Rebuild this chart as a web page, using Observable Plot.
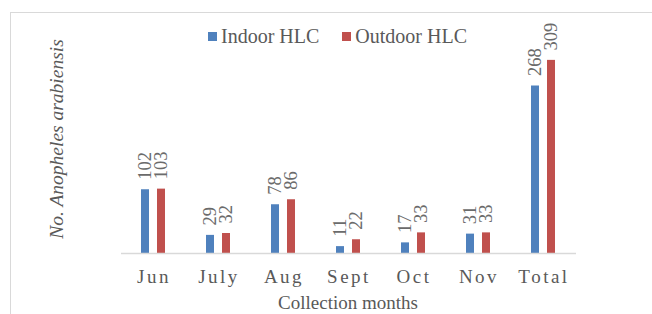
<!DOCTYPE html>
<html>
<head>
<meta charset="utf-8">
<script src="https://cdn.jsdelivr.net/npm/d3@7"></script>
<script src="https://cdn.jsdelivr.net/npm/@observablehq/plot@0.6"></script>
<style>
  html, body { margin: 0; padding: 0; background: #fff; overflow: hidden; }
  #wrap, #wrap * { font-family: "Liberation Serif", "DejaVu Serif", serif; }
  #wrap { position: relative; width: 652px; height: 314px; color: #595959; }
  #frame { position: absolute; left: 10px; top: 12px; width: 700px; height: 400px; border: 1px solid #d9d9d9; box-sizing: border-box; }
  #legend { position: absolute; left: 208px; top: 26px; display: flex; align-items: center; font-size: 20px; line-height: 20px; white-space: nowrap; }
  #legend .sw { display: inline-block; width: 9px; height: 9px; margin-right: 4px; }
  #legend .item { display: flex; align-items: center; margin-right: 23px; }
  #ylab { position: absolute; left: 57px; top: 139px; transform: translate(-50%, -50%) rotate(-90deg); font-size: 19.5px; font-style: italic; white-space: nowrap; }
  #xlab { position: absolute; left: 348px; top: 292px; transform: translateX(-50%); font-size: 19px; white-space: nowrap; }
  #chart { position: absolute; left: 0; top: 0; }
  #chart svg text { font-family: "Liberation Serif", "DejaVu Serif", serif; }
  #chart [aria-label^="fx-axis"] text { letter-spacing: 2.5px; font-size: 19px; }
</style>
</head>
<body>
<div id="wrap">
  <div id="frame"></div>
  <div id="chart"></div>
  <div id="legend"></div>
  <div id="ylab">No. Anopheles arabiensis</div>
  <div id="xlab">Collection months</div>
</div>
<script>
const months = ["Jun", "July", "Aug", "Sept", "Oct", "Nov", "Total"];
const indoor = [102, 29, 78, 11, 17, 31, 268];
const outdoor = [103, 32, 86, 22, 33, 33, 309];
const series = ["Indoor HLC", "Outdoor HLC"];
const colors = ["#4F81BD", "#C0504D"];

const data = months.flatMap((m, i) => [
  {month: m, series: series[0], value: indoor[i]},
  {month: m, series: series[1], value: outdoor[i]}
]);

const serif = "'Liberation Serif', 'DejaVu Serif', serif";

const chart = Plot.plot({
  width: 652,
  height: 314,
  marginLeft: 118,
  marginRight: 74,
  marginTop: 53,
  marginBottom: 61,
  style: {fontFamily: serif, color: "#595959", background: "transparent", overflow: "visible"},
  facet: {data, x: "month"},
  fx: {domain: months, padding: 0, axis: "bottom", tickSize: 0, tickPadding: 16, label: null},
  x: {domain: series, axis: null, paddingInner: 0.47, paddingOuter: 1.167},
  y: {domain: [0, 320], axis: null},
  color: {domain: series, range: colors},
  marks: [
    Plot.barY(data, {x: "series", y: "value", fill: "series"}),
    Plot.ruleY([0], {stroke: "#d9d9d9", strokeWidth: 1.5}),
    Plot.text(data, {x: "series", y: "value", text: d => String(d.value), rotate: -90, textAnchor: "start", dy: -10, fill: "#6b6b6b", fontSize: 18.5, fontFamily: serif})
  ]
});
document.getElementById("chart").appendChild(chart);

const legend = document.getElementById("legend");
series.forEach((s, i) => {
  const item = document.createElement("span");
  item.className = "item";
  const sw = document.createElement("span");
  sw.className = "sw";
  sw.style.background = colors[i];
  item.appendChild(sw);
  item.appendChild(document.createTextNode(s));
  legend.appendChild(item);
});
</script>
</body>
</html>
